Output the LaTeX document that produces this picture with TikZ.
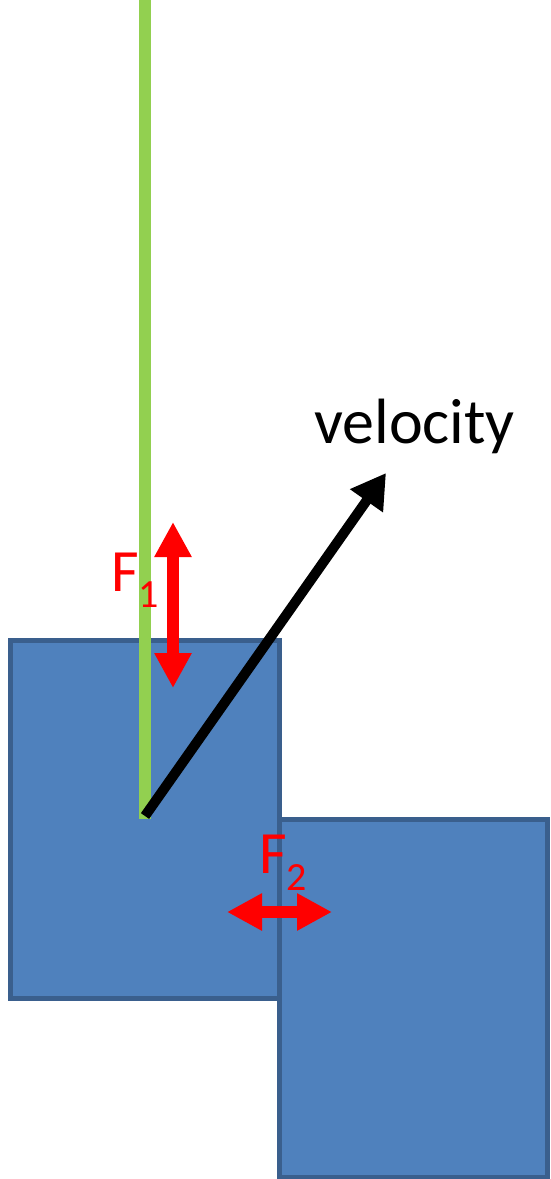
\documentclass[tikz,border=0pt]{standalone}
\usepackage{fontspec}
\setmainfont{Carlito}
\usetikzlibrary{arrows.meta}
\definecolor{boxfill}{HTML}{4F81BD}
\definecolor{boxline}{HTML}{3A5F8D}
\definecolor{ropegreen}{HTML}{92D050}
\definecolor{forcered}{HTML}{FF0000}
\tikzset{
  block/.style={fill=boxfill, draw=boxline, line width=5pt, inner sep=0pt, outer sep=0pt, anchor=north west},
  rope/.style={draw=ropegreen, line width=12pt},
  forcearrow/.style={draw=forcered, line width=12pt, {Triangle[length=35pt,width=35pt]}-{Triangle[length=35pt,width=35pt]}},
  velarrow/.style={draw=black, line width=10pt, -{Triangle[length=34pt,width=38pt]}},
  flabel/.style={text=forcered, font=\fontsize{60}{60}\selectfont, inner sep=0pt, anchor=base west},
  vlabel/.style={text=black, font=\fontsize{64}{64}\selectfont, inner sep=0pt, anchor=base west}
}
\begin{document}
\begin{tikzpicture}[x=1pt,y=-1pt]
\useasboundingbox (0,0) rectangle (550,1179);
% blocks
\node[block, minimum width=269pt, minimum height=358pt] (leftblock) at (10,640) {};
\node[block, minimum width=268pt, minimum height=358.5pt] (rightblock) at (279.5,819) {};
% rope
\coordinate (ropetop) at (144.5,0);
\coordinate (center) at (144.5,819);
\draw[rope] (ropetop) -- (center);
% velocity
\coordinate (velstart) at (145,816);
\coordinate (veltip) at (386,473);
\draw[velarrow] (velstart) -- (veltip);
\node[vlabel] (veltext) at (314,443) {velocity};
% F1
\coordinate (f1top) at (173,522);
\coordinate (f1bot) at (173,688);
\draw[forcearrow] (f1bot) -- (f1top);
\node[flabel] (f1) at (111,591) {F\raisebox{-16pt}{\fontsize{40}{40}\selectfont 1}};
% F2
\coordinate (f2left) at (227,912);
\coordinate (f2right) at (332,912);
\draw[forcearrow] (f2left) -- (f2right);
\node[flabel] (f2) at (259,873) {F\raisebox{-17pt}{\fontsize{40}{40}\selectfont 2}};
\end{tikzpicture}
\end{document}
